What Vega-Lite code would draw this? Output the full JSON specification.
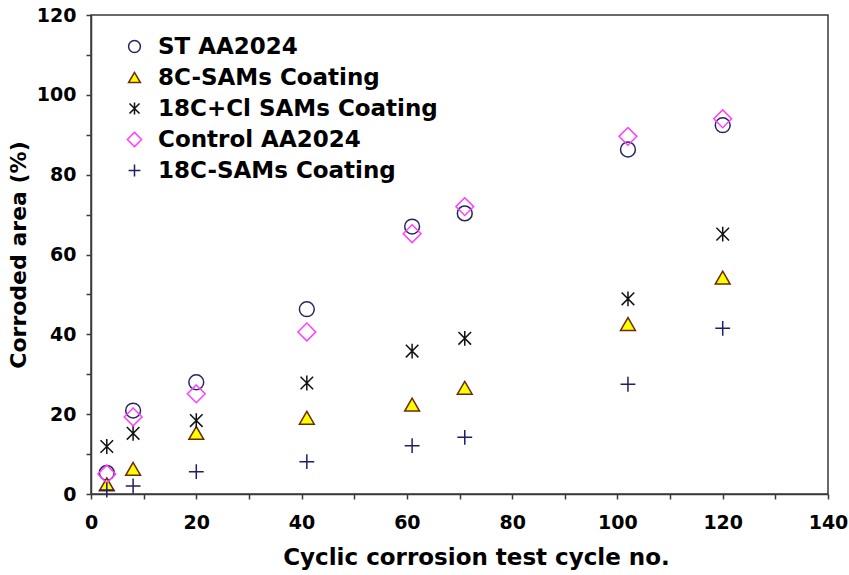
{
  "$schema": "https://vega.github.io/schema/vega-lite/v6.json",
  "width": 737,
  "height": 479,
  "autosize": "none",
  "padding": {"left": 91, "top": 15, "right": 21, "bottom": 81},
  "background": "white",
  "config": {
    "view": {"stroke": "#3a3a3a", "strokeWidth": 1.5},
    "font": "DejaVu Sans"
  },
  "data": {
    "values": [
      {"series": "ST AA2024", "cycle": 3, "area": 5.3},
      {"series": "ST AA2024", "cycle": 8, "area": 20.9},
      {"series": "ST AA2024", "cycle": 20, "area": 28.0},
      {"series": "ST AA2024", "cycle": 41, "area": 46.3},
      {"series": "ST AA2024", "cycle": 61, "area": 67.0},
      {"series": "ST AA2024", "cycle": 71, "area": 70.3},
      {"series": "ST AA2024", "cycle": 102, "area": 86.3},
      {"series": "ST AA2024", "cycle": 120, "area": 92.4},
      {"series": "8C-SAMs Coating", "cycle": 3, "area": 2.4},
      {"series": "8C-SAMs Coating", "cycle": 8, "area": 6.3},
      {"series": "8C-SAMs Coating", "cycle": 20, "area": 15.3},
      {"series": "8C-SAMs Coating", "cycle": 41, "area": 19.1},
      {"series": "8C-SAMs Coating", "cycle": 61, "area": 22.4},
      {"series": "8C-SAMs Coating", "cycle": 71, "area": 26.6},
      {"series": "8C-SAMs Coating", "cycle": 102, "area": 42.6},
      {"series": "8C-SAMs Coating", "cycle": 120, "area": 54.2},
      {"series": "18C+Cl SAMs Coating", "cycle": 3, "area": 11.9},
      {"series": "18C+Cl SAMs Coating", "cycle": 8, "area": 15.2},
      {"series": "18C+Cl SAMs Coating", "cycle": 20, "area": 18.4},
      {"series": "18C+Cl SAMs Coating", "cycle": 41, "area": 27.8},
      {"series": "18C+Cl SAMs Coating", "cycle": 61, "area": 35.8},
      {"series": "18C+Cl SAMs Coating", "cycle": 71, "area": 39.0},
      {"series": "18C+Cl SAMs Coating", "cycle": 102, "area": 48.9},
      {"series": "18C+Cl SAMs Coating", "cycle": 120, "area": 65.1},
      {"series": "Control AA2024", "cycle": 3, "area": 5.0},
      {"series": "Control AA2024", "cycle": 8, "area": 19.3},
      {"series": "Control AA2024", "cycle": 20, "area": 25.1},
      {"series": "Control AA2024", "cycle": 41, "area": 40.6},
      {"series": "Control AA2024", "cycle": 61, "area": 65.2},
      {"series": "Control AA2024", "cycle": 71, "area": 72.0},
      {"series": "Control AA2024", "cycle": 102, "area": 89.6},
      {"series": "Control AA2024", "cycle": 120, "area": 94.0},
      {"series": "18C-SAMs Coating", "cycle": 3, "area": 1.0},
      {"series": "18C-SAMs Coating", "cycle": 8, "area": 2.0},
      {"series": "18C-SAMs Coating", "cycle": 20, "area": 5.6},
      {"series": "18C-SAMs Coating", "cycle": 41, "area": 8.1},
      {"series": "18C-SAMs Coating", "cycle": 61, "area": 12.1},
      {"series": "18C-SAMs Coating", "cycle": 71, "area": 14.2},
      {"series": "18C-SAMs Coating", "cycle": 102, "area": 27.5},
      {"series": "18C-SAMs Coating", "cycle": 120, "area": 41.5}
    ]
  },
  "mark": {"type": "point", "filled": false, "size": 220, "strokeWidth": 1.5, "opacity": 1},
  "encoding": {
    "x": {
      "field": "cycle",
      "type": "quantitative",
      "scale": {"domain": [0, 140], "nice": false, "zero": false},
      "axis": {
        "title": "Cyclic corrosion test cycle no.",
        "values": [0, 10, 20, 30, 40, 50, 60, 70, 80, 90, 100, 110, 120, 130, 140],
        "labelExpr": "datum.value % 20 === 0 ? datum.label : ''",
        "grid": false,
        "domainColor": "#3a3a3a",
        "domainWidth": 1.5,
        "tickColor": "#3a3a3a",
        "tickWidth": 1.5,
        "tickSize": 5,
        "labelFont": "DejaVu Sans",
        "labelFontSize": 19,
        "labelFontWeight": "bold",
        "labelColor": "black",
        "labelPadding": 14,
        "labelFlush": false,
        "titleFont": "DejaVu Sans",
        "titleFontSize": 23,
        "titleFontWeight": "bold",
        "titleColor": "black",
        "titlePadding": 14,
        "titleX": 385,
        "titleAlign": "center"
      }
    },
    "y": {
      "field": "area",
      "type": "quantitative",
      "scale": {"domain": [0, 120], "nice": false, "zero": true},
      "axis": {
        "title": "Corroded area (%)",
        "values": [0, 10, 20, 30, 40, 50, 60, 70, 80, 90, 100, 110, 120],
        "labelExpr": "datum.value % 20 === 0 ? datum.label : ''",
        "grid": false,
        "domainColor": "#3a3a3a",
        "domainWidth": 1.5,
        "tickColor": "#3a3a3a",
        "tickWidth": 1.5,
        "tickSize": 5,
        "labelFont": "DejaVu Sans",
        "labelFontSize": 19,
        "labelFontWeight": "bold",
        "labelColor": "black",
        "labelPadding": 10,
        "labelFlush": false,
        "titleFont": "DejaVu Sans",
        "titleFontSize": 22,
        "titleFontWeight": "bold",
        "titleColor": "black",
        "titlePadding": 6
      }
    },
    "shape": {
      "field": "series",
      "type": "nominal",
      "scale": {
        "domain": ["ST AA2024", "8C-SAMs Coating", "18C+Cl SAMs Coating", "Control AA2024", "18C-SAMs Coating"],
        "range": ["circle", "triangle-up", "M0,-1L0,1M-0.85,-0.85L0.85,0.85M-0.85,0.85L0.85,-0.85", "M0,-1.2L1.2,0L0,1.2L-1.2,0Z", "M-1,0L1,0M0,-1L0,1"]
      },
      "legend": {
        "title": null,
        "orient": "none",
        "legendX": 32,
        "legendY": 20,
        "padding": 0,
        "labelFont": "DejaVu Sans",
        "labelFontSize": 23,
        "labelFontWeight": "bold",
        "labelColor": "black",
        "labelOffset": 12,
        "labelLimit": 500,
        "rowPadding": 7,
        "symbolSize": 140,
        "symbolStrokeWidth": 1.5
      }
    },
    "stroke": {
      "field": "series",
      "type": "nominal",
      "scale": {
        "domain": ["ST AA2024", "8C-SAMs Coating", "18C+Cl SAMs Coating", "Control AA2024", "18C-SAMs Coating"],
        "range": ["#27275f", "#6b2a0a", "#111111", "#ff40ff", "#1f1f66"]
      }
    },
    "fill": {
      "field": "series",
      "type": "nominal",
      "scale": {
        "domain": ["ST AA2024", "8C-SAMs Coating", "18C+Cl SAMs Coating", "Control AA2024", "18C-SAMs Coating"],
        "range": ["transparent", "#ffff00", "transparent", "transparent", "transparent"]
      }
    }
  }
}
